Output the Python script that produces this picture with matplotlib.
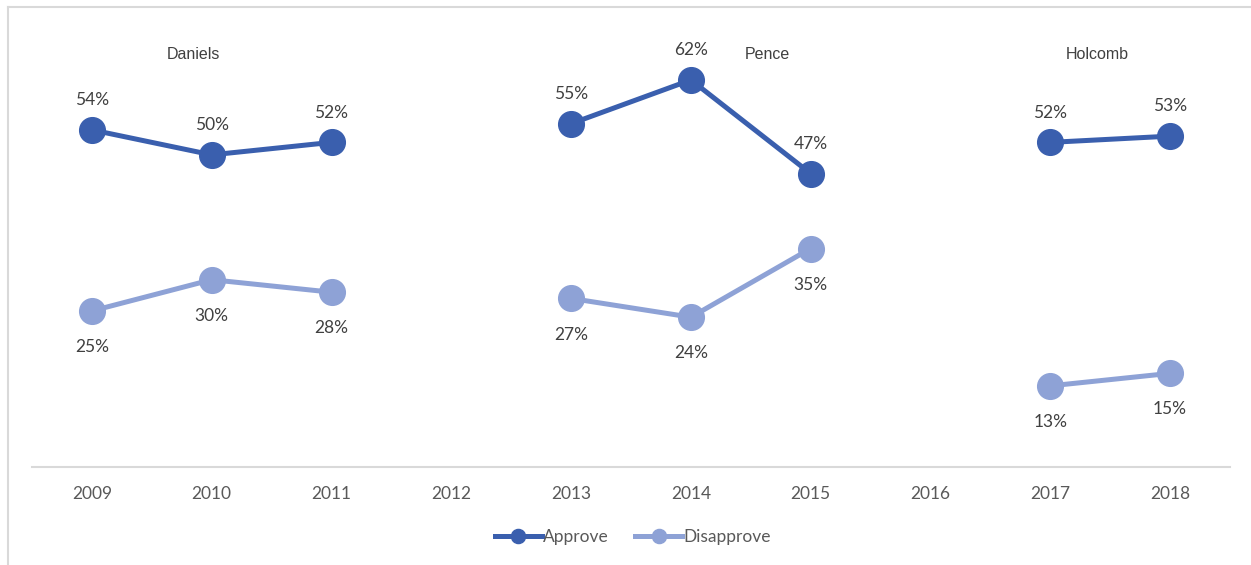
import numpy as np
import matplotlib.pyplot as plt
from matplotlib.lines import Line2D

years = ['2009', '2010', '2011', '2012', '2013', '2014', '2015', '2016', '2017', '2018']
approve = [54, 50, 52, np.nan, 55, 62, 47, np.nan, 52, 53]
disapprove = [25, 30, 28, np.nan, 27, 24, 35, np.nan, 13, 15]
governors = ['Daniels', 'Pence', 'Holcomb']
gov_pos = [0.85, 5.64, 8.39]

c_app = '#3a5fae'
c_dis = '#8ea2d6'
grey = '#595959'

fig = plt.figure(figsize=(12.51, 5.65), dpi=100)
ax = fig.add_axes([32 / 1251, 98 / 565, 1198 / 1251, 437 / 565])

x = np.arange(len(years))
ax.plot(x, approve, color=c_app, lw=3.6, marker='o', ms=18.5, label='Approve')
ax.plot(x, disapprove, color=c_dis, lw=3.6, marker='o', ms=18.5, label='Disapprove')

for i in range(len(years)):
    if not np.isnan(approve[i]):
        ax.annotate('%d%%' % approve[i], (x[i], approve[i]), xytext=(0, 21.5),
                    textcoords='offset points', ha='center', va='center',
                    fontsize=12.5, color='#404040', family='Lato')
    if not np.isnan(disapprove[i]):
        ax.annotate('%d%%' % disapprove[i], (x[i], disapprove[i]), xytext=(0, -26),
                    textcoords='offset points', ha='center', va='center',
                    fontsize=12.5, color='#404040', family='Lato')

for name, p in zip(governors, gov_pos):
    ax.text(p, 66, name, ha='center', va='center', fontsize=11.5,
            color='#404040', family='Liberation Sans')

ax.set_xlim(-0.5, len(years) - 0.5)
ax.set_ylim(0, 70)
ax.set_xticks(x)
ax.set_xticklabels(years, fontsize=12.5, color=grey, family='Lato')
ax.tick_params(axis='x', length=0, pad=14)
ax.set_yticks([])
for s in ['top', 'right', 'left']:
    ax.spines[s].set_visible(False)
ax.spines['bottom'].set_color('#d9d9d9')
ax.spines['bottom'].set_linewidth(1.5)

leg = fig.legend(loc='center', bbox_to_anchor=(633 / 1251, 1 - 537 / 565), ncol=2,
                 frameon=False, markerscale=0.55, handlelength=2.7, handletextpad=0.1,
                 columnspacing=1.5, prop={'family': 'Lato', 'size': 12.5})
for t in leg.get_texts():
    t.set_color(grey)

# outer chart frame (top and left edges visible)
fig.add_artist(Line2D([8 / 1251, 1], [1 - 7 / 565, 1 - 7 / 565], color='#d9d9d9', lw=1.5))
fig.add_artist(Line2D([8 / 1251, 8 / 1251], [0, 1 - 7 / 565], color='#d9d9d9', lw=1.5))

fig.savefig('out.png', dpi=100)
